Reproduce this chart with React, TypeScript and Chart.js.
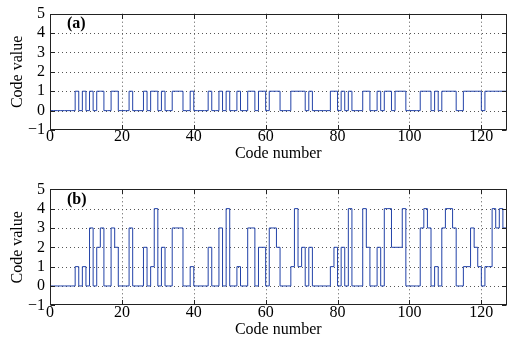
import React, { useEffect, useRef } from 'react';
import { Chart, registerables } from 'chart.js';

Chart.register(...registerables);

// ---- data ----
const panelAValues = [
  0,0,0,0,0,0,0,0,1,0,1,0,1,0,1,1,
  0,0,1,1,0,0,0,1,0,0,0,1,0,1,1,0,
  1,0,0,1,1,1,0,0,1,0,0,0,0,1,0,0,
  1,0,1,0,0,1,0,0,1,1,0,1,1,0,1,1,
  1,0,0,0,1,1,1,1,0,1,0,0,0,0,0,1,
  1,0,1,0,1,0,0,0,1,1,0,0,1,0,1,1,
  0,1,1,1,0,0,0,0,1,1,1,0,1,0,1,1,
  1,1,0,0,1,1,1,1,1,0,1,1,1,1,1,1,
];

const panelBValues = [
  0,0,0,0,0,0,0,0,1,0,1,0,3,0,2,3,
  0,0,3,2,0,0,0,3,0,0,0,2,0,1,4,0,
  2,0,0,3,3,3,0,0,1,0,0,0,0,2,0,0,
  3,0,4,0,0,1,0,0,3,3,0,2,2,0,3,3,
  2,0,0,0,1,4,1,2,0,2,0,0,0,0,0,1,
  2,0,2,0,4,0,0,0,4,2,0,0,2,0,4,4,
  2,2,2,4,0,0,0,0,3,4,3,0,1,0,3,4,
  4,3,0,0,1,1,3,2,1,0,1,1,4,3,4,3,
];

const xTickValues = [0, 20, 40, 60, 80, 100, 120];
const yTickValues = [-1, 0, 1, 2, 3, 4, 5];
const xMin = 0;
const xMax = 127;
const yMin = -1;
const yMax = 5;
const xTitle = 'Code number';
const yTitle = 'Code value';
const panelLabels = ['(a)', '(b)'];

const FONT = 'Liberation Serif, Times New Roman, serif';
const LINE_COLOR = '#2242a8';

const matlabFrame = {
  id: 'matlabFrame',
  beforeDatasetsDraw(chart: any) {
    const { ctx, chartArea, scales } = chart;
    const { left, right, top, bottom } = chartArea;
    const x = scales.x;
    const y = scales.y;
    ctx.save();
    ctx.strokeStyle = '#555555';
    ctx.lineWidth = 1;
    ctx.setLineDash([1, 3]);
    for (const v of xTickValues) {
      const px = Math.round(x.getPixelForValue(v)) + 0.5;
      if (px <= left + 1 || px >= right - 1) continue;
      ctx.beginPath();
      ctx.moveTo(px, top);
      ctx.lineTo(px, bottom);
      ctx.stroke();
    }
    for (const v of yTickValues) {
      const py = Math.round(y.getPixelForValue(v)) + 0.5;
      if (py <= top + 1 || py >= bottom - 1) continue;
      ctx.beginPath();
      ctx.moveTo(left, py);
      ctx.lineTo(right, py);
      ctx.stroke();
    }
    ctx.restore();
  },
  afterDatasetsDraw(chart: any, _args: any, opts: any) {
    const { ctx, chartArea, scales } = chart;
    const { left, right, top, bottom } = chartArea;
    const x = scales.x;
    const y = scales.y;
    ctx.save();
    ctx.setLineDash([]);
    ctx.strokeStyle = '#222222';
    ctx.lineWidth = 1;
    const l = Math.round(left) + 0.5;
    const r = Math.round(right) - 0.5;
    const t = Math.round(top) + 0.5;
    const b = Math.round(bottom) - 0.5;
    ctx.strokeRect(l, t, r - l, b - t);
    const tl = 4.5;
    ctx.beginPath();
    for (const v of xTickValues) {
      const px = Math.round(x.getPixelForValue(v)) + 0.5;
      ctx.moveTo(px, b);
      ctx.lineTo(px, b - tl);
      ctx.moveTo(px, t);
      ctx.lineTo(px, t + tl);
    }
    for (const v of yTickValues) {
      const py = Math.round(y.getPixelForValue(v)) + 0.5;
      ctx.moveTo(l, py);
      ctx.lineTo(l + tl, py);
      ctx.moveTo(r, py);
      ctx.lineTo(r - tl, py);
    }
    ctx.stroke();
    if (opts && opts.label) {
      ctx.fillStyle = '#000';
      ctx.font = `bold 16px ${FONT}`;
      ctx.textAlign = 'left';
      ctx.textBaseline = 'middle';
      ctx.fillText(opts.label, left + 17, top + 10.5);
    }
    ctx.restore();
  },
};

type Layout = { padTop: number; xHeight: number; titlePadBottom: number };

function makeConfig(values: number[], label: string, layout: Layout): any {
  const points = values.map((v, i) => ({ x: i, y: v }));
  return {
    type: 'line',
    data: {
      datasets: [
        {
          data: points,
          stepped: 'after',
          borderColor: LINE_COLOR,
          borderWidth: 1,
          pointRadius: 0,
          fill: false,
        },
      ],
    },
    options: {
      animation: false,
      responsive: false,
      maintainAspectRatio: false,
      layout: { padding: { top: layout.padTop, right: 8.5, left: 0, bottom: 0 } },
      plugins: {
        legend: { display: false },
        tooltip: { enabled: false },
        matlabFrame: { label },
      },
      scales: {
        x: {
          type: 'linear',
          min: xMin,
          max: xMax,
          grid: { display: false, drawTicks: false },
          border: { display: false },
          afterBuildTicks: (scale: any) => {
            scale.ticks = xTickValues.map((v) => ({ value: v }));
          },
          afterFit: (scale: any) => {
            scale.height = layout.xHeight;
          },
          ticks: {
            autoSkip: false,
            maxRotation: 0,
            padding: -1,
            color: '#000',
            font: { family: FONT, size: 16, lineHeight: 1 },
          },
          title: {
            display: true,
            text: xTitle,
            color: '#000',
            font: { family: FONT, size: 16, lineHeight: 1.2 },
            padding: { top: 0, bottom: layout.titlePadBottom },
          },
        },
        y: {
          type: 'linear',
          min: yMin,
          max: yMax,
          grid: { display: false, drawTicks: false },
          border: { display: false },
          afterBuildTicks: (scale: any) => {
            scale.ticks = yTickValues.map((v) => ({ value: v }));
          },
          afterFit: (scale: any) => {
            scale.width = 50;
          },
          ticks: {
            autoSkip: false,
            padding: 5,
            color: '#000',
            font: { family: FONT, size: 16, lineHeight: 1 },
            callback: (v: any) => (Number(v) < 0 ? '\u2212' + Math.abs(Number(v)) : String(v)),
          },
          title: {
            display: true,
            text: yTitle,
            color: '#000',
            font: { family: FONT, size: 16, lineHeight: 1.2 },
            padding: { top: 8, bottom: 0 },
          },
        },
      },
    },
    plugins: [matlabFrame],
  };
}

function Panel({ values, label, layout, top }: { values: number[]; label: string; layout: Layout; top: number }) {
  const ref = useRef<HTMLCanvasElement | null>(null);
  useEffect(() => {
    if (!ref.current) return;
    const chart = new Chart(ref.current, makeConfig(values, label, layout));
    return () => chart.destroy();
  }, [values, label, layout]);
  return (
    <canvas
      ref={ref}
      width={515}
      height={171}
      style={{ position: 'absolute', left: 0, top, width: 515, height: 171, display: 'block' }}
    />
  );
}

const layoutA: Layout = { padTop: 13.7, xHeight: 41, titlePadBottom: 7.5 };
const layoutB: Layout = { padTop: 18.3, xHeight: 36.7, titlePadBottom: 3 };

export default function App() {
  return (
    <div style={{ position: 'absolute', left: 0, top: 0, width: 515, height: 342, background: '#fff' }}>
      <Panel values={panelAValues} label={panelLabels[0]} layout={layoutA} top={0} />
      <Panel values={panelBValues} label={panelLabels[1]} layout={layoutB} top={171} />
    </div>
  );
}
